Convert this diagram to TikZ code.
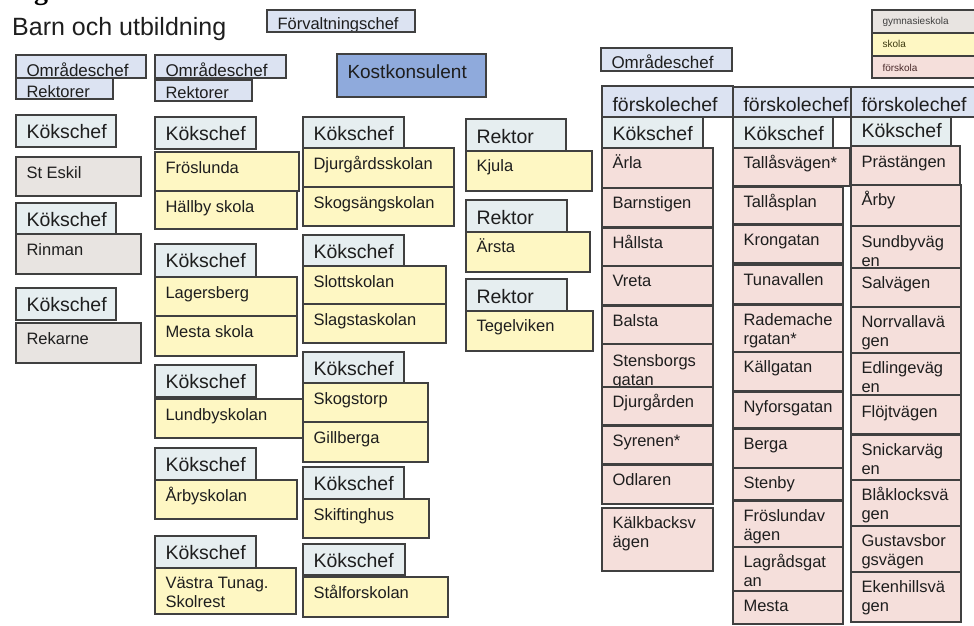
\documentclass[tikz,border=0pt]{standalone}
\usepackage{fontspec}
\setmainfont{Liberation Sans}
\newfontfamily\serifbf{Liberation Serif}
\newcommand\fsz[1]{\fontsize{#1}{19}\selectfont}
\newcommand\Hf{\fsz{19.5}}
\newcommand\Cf{\fsz{16.5}}
\newcommand\twol[2]{\vtop{\baselineskip=19pt\hbox{#1}\hbox{#2}}}
\definecolor{bord}{HTML}{404040}
\definecolor{hdrc}{HTML}{E6EEF0}
\definecolor{chefc}{HTML}{DCE3F2}
\definecolor{schc}{HTML}{FEF7C3}
\definecolor{gymc}{HTML}{E8E4E1}
\definecolor{prec}{HTML}{F5DFDB}
\definecolor{kostc}{HTML}{8FAADC}
\definecolor{txtc}{HTML}{1E1E1E}
\tikzset{
  box/.style={draw=bord, line width=1.3pt, inner sep=0pt, outer sep=0pt},
  hdr/.style={box, fill=hdrc},
  chef/.style={box, fill=chefc},
  sch/.style={box, fill=schc},
  gym/.style={box, fill=gymc},
  pre/.style={box, fill=prec},
  kost/.style={box, fill=kostc},
  txt/.style={inner sep=0pt, outer sep=0pt, text=txtc, minimum width=0pt,
    minimum height=0pt, draw=none, fill=none},
}
% #1 font, #2 name, #3 x, #4 y, #5 w, #6 h, #7 style, #8 baseline offset, #9 text
\newcommand\bx[9][\Cf]{%
  \node[#7, minimum width=#5pt, minimum height=#6pt, anchor=north west,
    path picture={\node[txt, font=#1, anchor=base west] (#2-t)
      at ([xshift=10.5pt,yshift=-#8pt]path picture bounding box.north west) {#9};}]
    (#2) at (#3pt,-#4pt) {};}
\begin{document}
\begin{tikzpicture}
\useasboundingbox (0pt,0pt) rectangle (974pt,-626pt);
% title
\node[anchor=base west, inner sep=0pt, font=\serifbf\bfseries\fontsize{28}{30}\selectfont] (gfrag) at (34pt,0pt) {g};
\node[anchor=base west, inner sep=0pt, text=txtc, font=\fsz{25}] (title) at (12pt,-36pt) {Barn och utbildning};
\bx{fc}{267}{10}{148}{22}{chef}{20}{Förvaltningschef}
% column A
\bx[\fsz{17}]{oa}{16}{55}{130}{23}{chef}{21}{Områdeschef}
\bx{ra}{16}{78}{97}{21}{chef}{19}{Rektorer}
\bx[\Hf]{ka1}{16}{115}{100}{32}{hdr}{23.5}{Kökschef}
\bx{a1}{16}{157}{125}{39}{gym}{21}{St Eskil}
\bx[\Hf]{ka2}{16}{203}{100}{31}{hdr}{23.5}{Kökschef}
\bx{a2}{16}{234}{125}{40}{gym}{21}{Rinman}
\bx[\Hf]{ka3}{16}{288}{100}{32}{hdr}{23.5}{Kökschef}
\bx{a3}{16}{323}{125}{40}{gym}{21}{Rekarne}
% column B
\bx[\fsz{17}]{ob}{155}{55}{131}{23}{chef}{21}{Områdeschef}
\bx{rb}{155}{80}{97}{21}{chef}{19}{Rektorer}
\bx[\Hf]{kb1}{155}{117}{101}{32}{hdr}{23.5}{Kökschef}
\bx{b1}{155}{152}{144}{39}{sch}{21}{Fröslunda}
\bx{b2}{155}{191}{142}{38}{sch}{21}{Hällby skola}
\bx[\Hf]{kb2}{155}{244}{101}{33}{hdr}{23.5}{Kökschef}
\bx{b3}{155}{277}{142}{39}{sch}{21}{Lagersberg}
\bx{b4}{155}{316}{142}{40}{sch}{21}{Mesta skola}
\bx[\Hf]{kb3}{155}{365}{101}{32}{hdr}{23.5}{Kökschef}
\bx{b5}{155}{399}{148}{39}{sch}{21}{Lundbyskolan}
\bx[\Hf]{kb4}{155}{448}{101}{32}{hdr}{23.5}{Kökschef}
\bx{b6}{155}{480}{142}{39}{sch}{21}{Årbyskolan}
\bx[\Hf]{kb5}{155}{536}{101}{32}{hdr}{23.5}{Kökschef}
\bx{b7}{155}{568}{141}{46}{sch}{20}{\twol{Västra Tunag.}{Skolrest}}
% column C
\bx[\fsz{19}]{kost}{337}{54}{149}{43}{kost}{24}{Kostkonsulent}
\bx[\Hf]{kc1}{303}{117}{101}{31}{hdr}{23.5}{Kökschef}
\bx{c1}{303}{148}{151}{39}{sch}{21}{Djurgårdsskolan}
\bx{c2}{303}{187}{151}{39}{sch}{21}{Skogsängskolan}
\bx[\Hf]{kc2}{303}{235}{101}{31}{hdr}{23.5}{Kökschef}
\bx{c3}{303}{266}{143}{38}{sch}{21}{Slottskolan}
\bx{c4}{303}{304}{143}{39}{sch}{21}{Slagstaskolan}
\bx[\Hf]{kc3}{303}{352}{101}{31}{hdr}{23.5}{Kökschef}
\bx{c5}{303}{383}{125}{39}{sch}{21}{Skogstorp}
\bx{c6}{303}{422}{125}{40}{sch}{21}{Gillberga}
\bx[\Hf]{kc4}{303}{467}{101}{32}{hdr}{23.5}{Kökschef}
\bx{c7}{303}{499}{126}{39}{sch}{21}{Skiftinghus}
\bx[\Hf]{kc5}{303}{544}{102}{31}{hdr}{23.5}{Kökschef}
\bx{c8}{303}{577}{145}{40}{sch}{21}{Stålforskolan}
% column D
\bx[\Hf]{kd1}{466}{119}{100}{32}{hdr}{24}{Rektor}
\bx{d1}{466}{151}{126}{40}{sch}{20.5}{Kjula}
\bx[\Hf]{kd2}{466}{200}{101}{32}{hdr}{24}{Rektor}
\bx{d2}{466}{232}{124}{40}{sch}{20.5}{Ärsta}
\bx[\Hf]{kd3}{466}{279}{101}{32}{hdr}{24}{Rektor}
\bx{d3}{466}{311}{127}{40}{sch}{20.5}{Tegelviken}
% legend
\bx[\fsz{10}]{lg}{872}{10}{105}{23}{gym}{15}{\color[HTML]{404040}gymnasieskola}
\bx[\fsz{10}]{ls}{872}{33}{105}{23}{sch}{15}{\color[HTML]{3D3A10}skola}
\bx[\fsz{10}]{lf}{872}{56}{105}{22}{pre}{15}{\color[HTML]{4A2A2A}förskola}
% right part
\bx[\fsz{17}]{or}{601}{48}{131}{23}{chef}{21}{Områdeschef}
\bx[\Hf]{f1}{602}{86}{131}{31}{chef}{25}{förskolechef}
\bx[\Hf]{f2}{733}{87}{118}{30}{chef}{24}{förskolechef}
\bx[\Hf]{f3}{851}{87}{130}{30}{chef}{24}{förskolechef}
\bx[\Hf]{kr1}{602}{117}{101}{31}{hdr}{23.5}{Kökschef}
\bx[\Hf]{kr2}{733}{117}{100}{31}{hdr}{23.5}{Kökschef}
\bx[\Hf]{kr3}{851}{117}{100}{29}{hdr}{20.5}{Kökschef}
% R1
\bx{r1a}{602}{148}{111}{40}{pre}{20.5}{Ärla}
\bx{r1b}{602}{188}{111}{39}{pre}{20.5}{Barnstigen}
\bx{r1c}{602}{228}{111}{38}{pre}{20.5}{Hållsta}
\bx{r1d}{602}{266}{111}{39}{pre}{20.5}{Vreta}
\bx{r1e}{602}{306}{111}{38}{pre}{20.5}{Balsta}
\bx{r1f}{602}{344}{111}{43}{pre}{22}{\twol{Stensborgs}{gatan}}
\bx{r1g}{602}{387}{111}{38}{pre}{20.5}{Djurgården}
\bx{r1h}{602}{426}{111}{38}{pre}{20.5}{Syrenen*}
\bx{r1i}{602}{465}{111}{39}{pre}{20.5}{Odlaren}
\bx{r1j}{602}{508}{111}{63}{pre}{20.5}{\twol{Kälkbacksv}{ägen}}
% R2
\bx{r2a}{733}{148}{117}{38}{pre}{20.5}{Tallåsvägen*}
\bx{r2b}{733}{187}{110}{37}{pre}{20.5}{Tallåsplan}
\bx{r2c}{733}{225}{110}{38}{pre}{20.5}{Krongatan}
\bx{r2d}{733}{265}{110}{39}{pre}{20.5}{Tunavallen}
\bx{r2e}{733}{305}{110}{47}{pre}{20.5}{\twol{Rademache}{rgatan*}}
\bx{r2f}{733}{352}{110}{39}{pre}{20.5}{Källgatan}
\bx{r2g}{733}{392}{110}{36}{pre}{20.5}{Nyforsgatan}
\bx{r2h}{733}{429}{110}{39}{pre}{20.5}{Berga}
\bx{r2i}{733}{468}{110}{32}{pre}{20.5}{Stenby}
\bx{r2j}{733}{501}{110}{46}{pre}{20.5}{\twol{Fröslundav}{ägen}}
\bx{r2k}{733}{547}{110}{44}{pre}{20.5}{\twol{Lagrådsgat}{an}}
\bx{r2l}{733}{591}{110}{33}{pre}{20.5}{Mesta}
% R3
\bx{r3a}{851}{146}{109}{39}{pre}{21}{Prästängen}
\bx{r3b}{851}{185}{110}{41}{pre}{20.5}{Årby}
\bx{r3c}{851}{226}{110}{42}{pre}{21}{\twol{Sundbyväg}{en}}
\bx{r3d}{851}{268}{110}{39}{pre}{20.5}{Salvägen}
\bx{r3e}{851}{307}{110}{46}{pre}{20.5}{\twol{Norrvallavä}{gen}}
\bx{r3f}{851}{353}{110}{42}{pre}{20.5}{\twol{Edlingeväg}{en}}
\bx{r3g}{851}{395}{110}{39}{pre}{22}{Flöjtvägen}
\bx{r3h}{851}{435}{110}{45}{pre}{20.5}{\twol{Snickarväg}{en}}
\bx{r3i}{851}{480}{110}{46}{pre}{20.5}{\twol{Blåklocksvä}{gen}}
\bx{r3j}{851}{526}{110}{46}{pre}{20.5}{\twol{Gustavsbor}{gsvägen}}
\bx{r3k}{851}{572}{110}{50}{pre}{20.5}{\twol{Ekenhillsvä}{gen}}
\end{tikzpicture}
\end{document}
